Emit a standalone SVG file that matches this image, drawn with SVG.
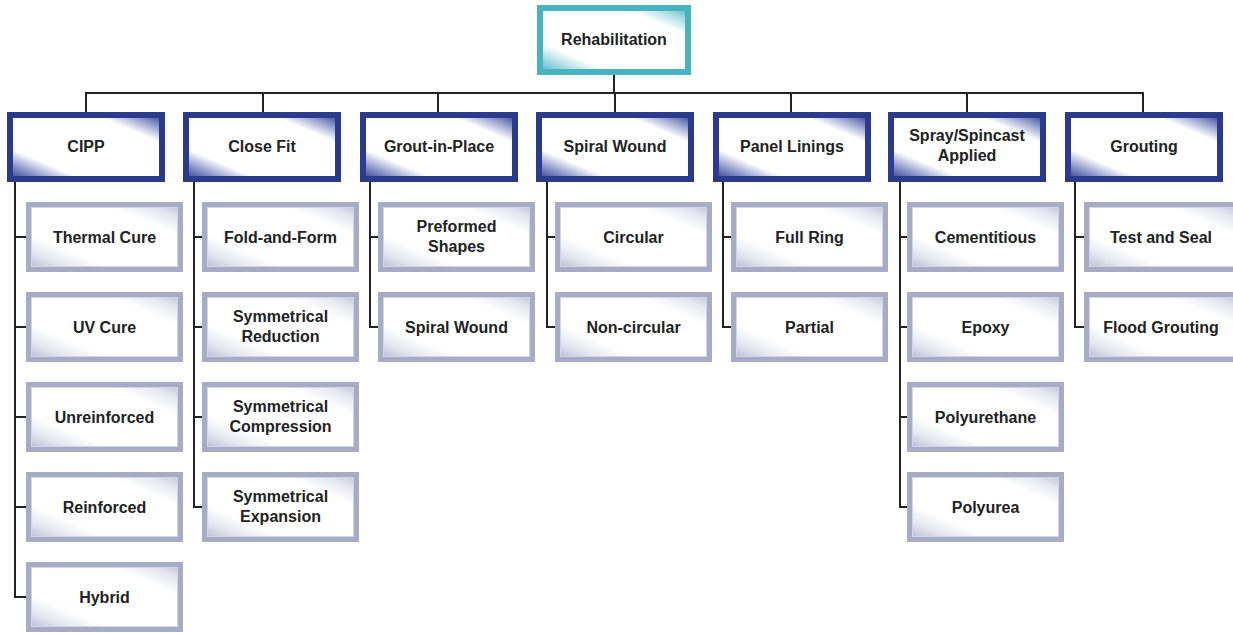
<svg xmlns="http://www.w3.org/2000/svg" width="1233" height="633" viewBox="0 0 1233 633">
<defs>
<linearGradient id="gRoot" x1="0" y1="1" x2="1" y2="0">
<stop offset="0" stop-color="#4ab5c1"/><stop offset="0.12" stop-color="#a9dce2"/><stop offset="0.24" stop-color="#ffffff"/><stop offset="0.78" stop-color="#ffffff"/><stop offset="0.9" stop-color="#a9dce2"/><stop offset="1" stop-color="#4ab5c1"/>
</linearGradient>
<linearGradient id="gHead" x1="0" y1="1" x2="1" y2="0">
<stop offset="0" stop-color="#2b3b8e"/><stop offset="0.12" stop-color="#8e97c9"/><stop offset="0.24" stop-color="#ffffff"/><stop offset="0.78" stop-color="#ffffff"/><stop offset="0.9" stop-color="#8e97c9"/><stop offset="1" stop-color="#2b3b8e"/>
</linearGradient>
<linearGradient id="gChild" x1="0" y1="1" x2="1" y2="0">
<stop offset="0" stop-color="#b2b6d0"/><stop offset="0.15" stop-color="#e6e8f1"/><stop offset="0.28" stop-color="#ffffff"/><stop offset="0.75" stop-color="#ffffff"/><stop offset="0.88" stop-color="#e6e8f1"/><stop offset="1" stop-color="#b8bcd4"/>
</linearGradient>
</defs>
<style>
.root{fill:url(#gRoot);stroke:#48b4c0;stroke-width:6}
.head{fill:url(#gHead);stroke:#2a3a8c;stroke-width:6}
.child{fill:url(#gChild);stroke:#a7abc5;stroke-width:5}
.inner{fill:none;stroke:#d2d5e5;stroke-width:1}
text{font-family:"Liberation Sans",Arial,sans-serif;font-weight:bold;font-size:16px;fill:#222222;text-anchor:middle}
.conn line, .conn polyline{stroke:#222;stroke-width:2;fill:none}
</style>
<rect width="1233" height="633" fill="#ffffff"/>
<g class="conn" id="connectors">
<line x1="614" y1="75" x2="614" y2="94"/>
<line x1="85" y1="93" x2="1144" y2="93"/>
<line x1="86" y1="93" x2="86" y2="112"/>
<line x1="263" y1="93" x2="263" y2="112"/>
<line x1="438" y1="93" x2="438" y2="112"/>
<line x1="615" y1="93" x2="615" y2="112"/>
<line x1="791" y1="93" x2="791" y2="112"/>
<line x1="967" y1="93" x2="967" y2="112"/>
<line x1="1143" y1="93" x2="1143" y2="112"/>
<polyline points="15,182 15,597 26,597"/>
<line x1="15" y1="237" x2="26" y2="237"/><line x1="15" y1="327" x2="26" y2="327"/><line x1="15" y1="417" x2="26" y2="417"/><line x1="15" y1="507" x2="26" y2="507"/>
<polyline points="194,182 194,507 202,507"/>
<line x1="194" y1="237" x2="202" y2="237"/><line x1="194" y1="327" x2="202" y2="327"/><line x1="194" y1="417" x2="202" y2="417"/>
<polyline points="370,182 370,327 378,327"/>
<line x1="370" y1="237" x2="378" y2="237"/>
<polyline points="547,182 547,327 555,327"/>
<line x1="547" y1="237" x2="555" y2="237"/>
<polyline points="723,182 723,327 731,327"/>
<line x1="723" y1="237" x2="731" y2="237"/>
<polyline points="900,182 900,507 907,507"/>
<line x1="900" y1="237" x2="907" y2="237"/><line x1="900" y1="327" x2="907" y2="327"/><line x1="900" y1="417" x2="907" y2="417"/>
<polyline points="1075,182 1075,327 1084,327"/>
<line x1="1075" y1="237" x2="1084" y2="237"/>
</g>
<g id="root"><rect class="root" x="540" y="8" width="148" height="64"/><text x="614" y="45">Rehabilitation</text></g>

<g id="h-cipp"><rect class="head" x="10" y="115" width="152" height="64"/><text x="86" y="152">CIPP</text></g>
<g id="h-closefit"><rect class="head" x="186" y="115" width="152" height="64"/><text x="262" y="152">Close Fit</text></g>
<g id="h-grout"><rect class="head" x="363" y="115" width="152" height="64"/><text x="439" y="152">Grout-in-Place</text></g>
<g id="h-spiral"><rect class="head" x="539" y="115" width="152" height="64"/><text x="615" y="152">Spiral Wound</text></g>
<g id="h-panel"><rect class="head" x="716" y="115" width="152" height="64"/><text x="792" y="152">Panel Linings</text></g>
<g id="h-spray"><rect class="head" x="891" y="115" width="152" height="64"/><text x="967" y="141">Spray/Spincast</text><text x="967" y="161">Applied</text></g>
<g id="h-grouting"><rect class="head" x="1068" y="115" width="152" height="64"/><text x="1144" y="152">Grouting</text></g>

<g id="c-thermal"><rect class="child" x="28.5" y="204.5" width="152" height="65"/><rect class="inner" x="31.5" y="207.5" width="146" height="59"/><text x="104.5" y="243">Thermal Cure</text></g>
<g id="c-uv"><rect class="child" x="28.5" y="294.5" width="152" height="65"/><rect class="inner" x="31.5" y="297.5" width="146" height="59"/><text x="104.5" y="333">UV Cure</text></g>
<g id="c-unreinforced"><rect class="child" x="28.5" y="384.5" width="152" height="65"/><rect class="inner" x="31.5" y="387.5" width="146" height="59"/><text x="104.5" y="423">Unreinforced</text></g>
<g id="c-reinforced"><rect class="child" x="28.5" y="474.5" width="152" height="65"/><rect class="inner" x="31.5" y="477.5" width="146" height="59"/><text x="104.5" y="513">Reinforced</text></g>
<g id="c-hybrid"><rect class="child" x="28.5" y="564.5" width="152" height="65"/><rect class="inner" x="31.5" y="567.5" width="146" height="59"/><text x="104.5" y="603">Hybrid</text></g>

<g id="c-fold"><rect class="child" x="204.5" y="204.5" width="152" height="65"/><rect class="inner" x="207.5" y="207.5" width="146" height="59"/><text x="280.5" y="243">Fold-and-Form</text></g>
<g id="c-symred"><rect class="child" x="204.5" y="294.5" width="152" height="65"/><rect class="inner" x="207.5" y="297.5" width="146" height="59"/><text x="280.5" y="322">Symmetrical</text><text x="280.5" y="342">Reduction</text></g>
<g id="c-symcomp"><rect class="child" x="204.5" y="384.5" width="152" height="65"/><rect class="inner" x="207.5" y="387.5" width="146" height="59"/><text x="280.5" y="412">Symmetrical</text><text x="280.5" y="432">Compression</text></g>
<g id="c-symexp"><rect class="child" x="204.5" y="474.5" width="152" height="65"/><rect class="inner" x="207.5" y="477.5" width="146" height="59"/><text x="280.5" y="502">Symmetrical</text><text x="280.5" y="522">Expansion</text></g>

<g id="c-preformed"><rect class="child" x="380.5" y="204.5" width="152" height="65"/><rect class="inner" x="383.5" y="207.5" width="146" height="59"/><text x="456.5" y="232">Preformed</text><text x="456.5" y="252">Shapes</text></g>
<g id="c-spiralwound"><rect class="child" x="380.5" y="294.5" width="152" height="65"/><rect class="inner" x="383.5" y="297.5" width="146" height="59"/><text x="456.5" y="333">Spiral Wound</text></g>

<g id="c-circular"><rect class="child" x="557.5" y="204.5" width="152" height="65"/><rect class="inner" x="560.5" y="207.5" width="146" height="59"/><text x="633.5" y="243">Circular</text></g>
<g id="c-noncircular"><rect class="child" x="557.5" y="294.5" width="152" height="65"/><rect class="inner" x="560.5" y="297.5" width="146" height="59"/><text x="633.5" y="333">Non-circular</text></g>

<g id="c-fullring"><rect class="child" x="733.5" y="204.5" width="152" height="65"/><rect class="inner" x="736.5" y="207.5" width="146" height="59"/><text x="809.5" y="243">Full Ring</text></g>
<g id="c-partial"><rect class="child" x="733.5" y="294.5" width="152" height="65"/><rect class="inner" x="736.5" y="297.5" width="146" height="59"/><text x="809.5" y="333">Partial</text></g>

<g id="c-cementitious"><rect class="child" x="909.5" y="204.5" width="152" height="65"/><rect class="inner" x="912.5" y="207.5" width="146" height="59"/><text x="985.5" y="243">Cementitious</text></g>
<g id="c-epoxy"><rect class="child" x="909.5" y="294.5" width="152" height="65"/><rect class="inner" x="912.5" y="297.5" width="146" height="59"/><text x="985.5" y="333">Epoxy</text></g>
<g id="c-polyurethane"><rect class="child" x="909.5" y="384.5" width="152" height="65"/><rect class="inner" x="912.5" y="387.5" width="146" height="59"/><text x="985.5" y="423">Polyurethane</text></g>
<g id="c-polyurea"><rect class="child" x="909.5" y="474.5" width="152" height="65"/><rect class="inner" x="912.5" y="477.5" width="146" height="59"/><text x="985.5" y="513">Polyurea</text></g>

<g id="c-testseal"><rect class="child" x="1086.5" y="204.5" width="152" height="65"/><rect class="inner" x="1089.5" y="207.5" width="146" height="59"/><text x="1161" y="243">Test and Seal</text></g>
<g id="c-flood"><rect class="child" x="1086.5" y="294.5" width="152" height="65"/><rect class="inner" x="1089.5" y="297.5" width="146" height="59"/><text x="1161" y="333">Flood Grouting</text></g>
</svg>
